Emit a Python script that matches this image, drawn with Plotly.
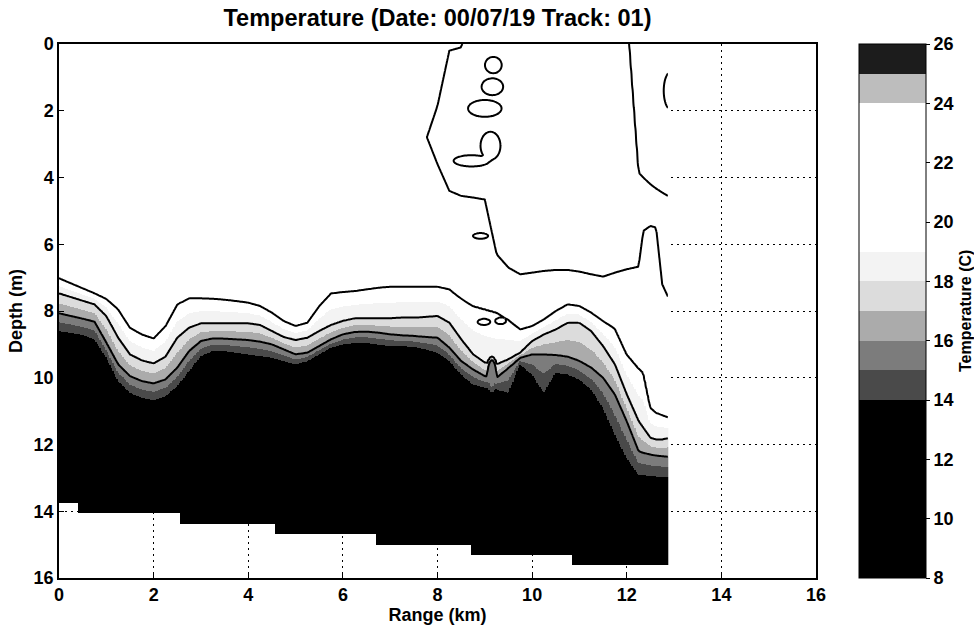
import numpy as np
import plotly.graph_objects as go

# ---------------- data ----------------
# station ranges (km)
range_km = [0, 0.25, 0.5, 0.75, 1, 1.25, 1.5, 1.75, 2, 2.25, 2.5, 2.75, 3, 3.25, 3.5, 3.75,
            4, 4.25, 4.5, 4.75, 5, 5.25, 5.5, 5.75, 6, 6.25, 6.5, 6.75, 7, 7.25, 7.5, 7.75,
            8, 8.25, 8.5, 8.75, 9, 9.25, 9.5, 9.75, 10, 10.25, 10.5, 10.75, 11, 11.25, 11.5, 11.75,
            12, 12.25, 12.35, 12.5, 12.62, 12.75, 12.9]

# isotherm depths (m) at each station
depth_20C = [7.02, 7.17, 7.32, 7.47, 7.64, 7.95, 8.5, 8.7, 8.82, 8.45, 7.8, 7.62, 7.62, 7.63, 7.66, 7.7,
             7.75, 7.85, 8.05, 8.3, 8.45, 8.35, 7.85, 7.47, 7.43, 7.4, 7.35, 7.3, 7.27, 7.27, 7.27, 7.27,
             7.27, 7.35, 7.63, 7.85, 7.95, 8.05, 8.27, 8.55, 8.45, 8.25, 8.0, 7.8, 7.85, 8.05, 8.3, 8.53,
             9.3, 9.72, 9.85, 10.9, 11.05, 11.12, 11.2]
depth_18C = [7.47, 7.58, 7.69, 7.8, 8.15, 8.8, 9.3, 9.48, 9.57, 9.37, 8.8, 8.5, 8.37, 8.37, 8.37, 8.37,
             8.37, 8.42, 8.6, 8.78, 8.87, 8.8, 8.6, 8.42, 8.3, 8.22, 8.22, 8.22, 8.22, 8.2, 8.2, 8.18,
             8.15, 8.35, 8.85, 9.3, 9.55, 9.6, 9.45, 9.25, 8.9, 8.7, 8.55, 8.35, 8.35, 8.6, 9.05, 9.6,
             10.5, 11.3, 11.5, 11.8, 11.85, 11.85, 11.8]
depth_16C = [8.07, 8.15, 8.23, 8.32, 8.95, 9.6, 9.95, 10.1, 10.17, 10.05, 9.7, 9.2, 8.9, 8.82, 8.83, 8.85,
             8.87, 8.92, 9.0, 9.15, 9.3, 9.25, 9.05, 8.85, 8.7, 8.63, 8.62, 8.65, 8.7, 8.73, 8.75, 8.78,
             8.8, 9.1, 9.5, 9.75, 9.95, 10.0, 9.7, 9.4, 9.3, 9.3, 9.32, 9.37, 9.5, 9.7, 10.0, 10.5,
             11.3, 12.2, 12.25, 12.3, 12.33, 12.35, 12.37]
depth_14C = [8.6, 8.65, 8.72, 8.85, 9.4, 10.1, 10.45, 10.6, 10.67, 10.55, 10.25, 9.8, 9.35, 9.2, 9.2, 9.25,
             9.3, 9.35, 9.4, 9.5, 9.6, 9.5, 9.3, 9.1, 9.0, 8.95, 8.95, 9.0, 9.05, 9.05, 9.07, 9.15,
             9.25, 9.5, 9.9, 10.2, 10.3, 10.35, 10.45, 9.6, 9.9, 10.45, 9.85, 9.9, 10.05, 10.35, 10.9, 11.7,
             12.4, 12.9, 12.92, 12.95, 12.96, 12.97, 12.97]

# upper-layer water warmer than 22 C: top and bottom depth (m) of that layer per station
# (top > bottom means the layer is absent at that station)
warm_top = [2.9] * 32 + [1.85, 0.2, 0.1, -1, -1, -1, -1, -1, -1, -1, -1, -1, -1, -1, -1, -1,
                         -1, 3.85, 4.0, 4.2, 4.33, 4.45, 4.58]
warm_bottom = [2.7] * 32 + [3.6, 4.4, 4.55, 4.6, 4.66, 6.3, 6.7, 6.9, 6.85, 6.8, 6.77, 6.77, 6.82, 6.9, 6.97, 6.85,
                            6.75, 6.67, 5.6, 5.45, 5.5, 7.2, 7.66]

# small isolated water patches: centre range (km), centre depth (m), half width (km), half height (m), temperature (C)
patch_range = [9.18, 9.16, 9.0, 9.12, 8.72, 8.91, 12.95, 8.98, 9.33, 9.15]
patch_depth = [0.63, 1.28, 1.93, 3.05, 3.5, 5.75, 1.4, 8.33, 8.3, 9.9]
patch_half_width = [0.21, 0.27, 0.42, 0.25, 0.45, 0.19, 0.2, 0.15, 0.12, 0.11]
patch_half_height = [0.29, 0.3, 0.3, 0.5, 0.2, 0.1, 0.7, 0.1, 0.1, 0.55]
patch_temp = [21.0, 21.0, 21.0, 21.0, 21.0, 23.0, 23.0, 21.0, 21.0, 15.0]

# bottom of the sampled water column (stepped), range edges (km) and depth (m)
bottom_edges = [0, 0.42, 2.58, 4.57, 6.70, 8.71, 10.85, 12.87]
bottom_depth = [13.75, 14.05, 14.37, 14.68, 15.0, 15.3, 15.6]

# colour bands (grey printout of the colour map)
band_edges = [8, 14, 15, 16, 17, 18, 19, 24, 25, 26]
band_colors = ["#000000", "#4a4a4a", "#7c7c7c", "#ababab", "#dcdcdc", "#f3f3f3",
               "#ffffff", "#bdbdbd", "#1c1c1c"]

cbar_ticks = [8, 10, 12, 14, 16, 18, 20, 22, 24, 26]
axis_ticks = [0, 2, 4, 6, 8, 10, 12, 14, 16]

# ---------------- build the temperature table ----------------
xs = np.arange(0, 12.87 + 1e-9, 0.03)
ys = np.arange(0, 16.0 + 1e-9, 0.03)
X, D = np.meshgrid(xs, ys)

a20 = np.interp(xs, range_km, depth_20C)
a18 = np.interp(xs, range_km, depth_18C)
a16 = np.interp(xs, range_km, depth_16C)
a14 = np.interp(xs, range_km, depth_14C)
wt = np.interp(xs, range_km, warm_top)
wb = np.interp(xs, range_km, warm_bottom)

T_low = np.empty_like(D)
for j in range(len(xs)):
    T_low[:, j] = np.interp(ys, [a20[j] - 2, a20[j], a18[j], a16[j], a14[j], a14[j] + 2.5, 20],
                            [28, 20, 18, 16, 14, 11, 9])
s = np.minimum(D - wt[None, :], wb[None, :] - D)
T_up = 22 + np.clip(3 * s, -0.9, 0.9)
T = np.minimum(T_up, T_low)

for rc, dc, rx, ry, tp in zip(patch_range, patch_depth, patch_half_width, patch_half_height, patch_temp):
    e = 1 - np.sqrt(((X - rc) / rx) ** 2 + ((D - dc) / ry) ** 2)
    w = np.clip(3 * e, 0, 1)
    T = T + (tp - T) * w

idx = np.clip(np.searchsorted(bottom_edges, xs, side="right") - 1, 0, len(bottom_depth) - 1)
bot = np.array(bottom_depth)[idx]
T_fill = np.where(D > bot[None, :], np.nan, T)

# discrete colour scale
lo, hi = band_edges[0], band_edges[-1]
colorscale = []
for i, c in enumerate(band_colors):
    colorscale.append([(band_edges[i] - lo) / (hi - lo), c])
    colorscale.append([(band_edges[i + 1] - lo) / (hi - lo), c])

FONT = "Liberation Sans, Arial, Helvetica, sans-serif"


def bold(v):
    return "<b>%s</b>" % v


fig = go.Figure()
fig.add_trace(go.Heatmap(
    x=xs, y=ys, z=T_fill, zmin=lo, zmax=hi, colorscale=colorscale, zsmooth=False,
    hoverinfo="skip",
    colorbar=dict(
        x=(859 - 59) / 757, xanchor="left", xpad=0, thickness=67,
        y=0.5, yanchor="middle", len=1.0, ypad=0,
        tickvals=cbar_ticks, ticktext=[bold(v) for v in cbar_ticks],
        ticks="outside", ticklen=4, tickcolor="black",
        outlinecolor="black", outlinewidth=1,
        tickfont=dict(family=FONT, size=18, color="black"),
    ),
))
fig.add_trace(go.Contour(
    x=xs, y=ys, z=T, showscale=False, hoverinfo="skip",
    contours=dict(start=16, end=22, size=2, coloring="none"),
    line=dict(color="black", width=2),
))

axis_common = dict(
    tickvals=axis_ticks, ticktext=[bold(v) for v in axis_ticks],
    ticks="inside", ticklen=5, tickcolor="black", automargin=False,
    showline=True, mirror=True, linecolor="black", linewidth=1.5,
    showgrid=True, gridcolor="black", griddash="2px,4px", gridwidth=1.2, zeroline=False,
    tickfont=dict(family=FONT, size=18, color="black"),
)
fig.update_layout(
    width=974, height=628,
    margin=dict(l=59, r=158, t=44, b=50, autoexpand=False),
    paper_bgcolor="white", plot_bgcolor="white",
    title=dict(text=bold("Temperature (Date: 00/07/19 Track: 01)"), x=0.5, xref="paper",
               y=1 - 18 / 628, yanchor="middle",
               font=dict(family=FONT, size=23.5, color="black")),
    xaxis=dict(range=[0, 16], title=dict(text=bold("Range (km)"), standoff=2,
               font=dict(family=FONT, size=18, color="black")), **axis_common),
    yaxis=dict(range=[16, 0], title=dict(text=bold("Depth (m)"), standoff=6,
               font=dict(family=FONT, size=18, color="black")), **axis_common),
    showlegend=False,
    annotations=[dict(text=bold("Temperature (C)"), xref="paper", yref="paper",
                      x=(965 - 59) / 757, y=0.5, xanchor="center", yanchor="middle",
                      textangle=-90, showarrow=False,
                      font=dict(family=FONT, size=16, color="black"))],
)
fig.write_html("out.html")
